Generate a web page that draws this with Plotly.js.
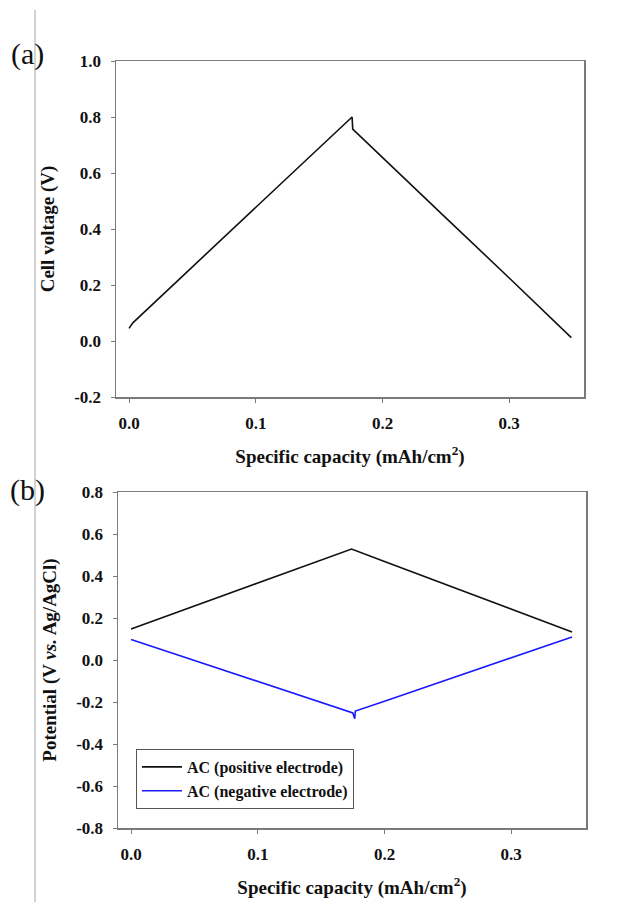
<!DOCTYPE html>
<html>
<head>
<meta charset="utf-8">
<script src="https://cdn.plot.ly/plotly-3.0.1.min.js"></script>
<style>
  html, body { margin: 0; padding: 0; background: #fff; }
  #chart { width: 621px; height: 902px; }
</style>
</head>
<body>
<div id="chart"></div>
<script>
// (a) Cell voltage during one charge/discharge cycle
const cellCapacity = [0, 0.003, 0.05, 0.10, 0.15, 0.176, 0.1765, 0.20, 0.25, 0.30, 0.349];
const cellVoltage  = [0.045, 0.065, 0.265, 0.477, 0.69, 0.80, 0.757, 0.655, 0.44, 0.225, 0.012];

// (b) Individual electrode potentials vs. Ag/AgCl
const posCapacity  = [0, 0.05, 0.10, 0.15, 0.174, 0.20, 0.25, 0.30, 0.348];
const posPotential = [0.148, 0.258, 0.367, 0.477, 0.528, 0.469, 0.355, 0.242, 0.133];
const negCapacity  = [0, 0.05, 0.10, 0.15, 0.175, 0.1765, 0.177, 0.20, 0.25, 0.30, 0.348];
const negPotential = [0.098, -0.002, -0.102, -0.202, -0.252, -0.28, -0.243, -0.196, -0.093, 0.011, 0.11];

const seriesNames = ['AC (positive electrode)', 'AC (negative electrode)'];
const xTicks  = [0, 0.1, 0.2, 0.3];
const xLabels = ['0.0', '0.1', '0.2', '0.3'];
const yTicksA  = [-0.2, 0, 0.2, 0.4, 0.6, 0.8, 1.0];
const yLabelsA = ['-0.2', '0.0', '0.2', '0.4', '0.6', '0.8', '1.0'];
const yTicksB  = [-0.8, -0.6, -0.4, -0.2, 0, 0.2, 0.4, 0.6, 0.8];
const yLabelsB = ['-0.8', '-0.6', '-0.4', '-0.2', '0.0', '0.2', '0.4', '0.6', '0.8'];

const SERIF = 'Liberation Serif, Times New Roman, serif';
const AXIS_GRAY = '#7a7a7a';

const traces = [
  { x: cellCapacity, y: cellVoltage, xaxis: 'x', yaxis: 'y', mode: 'lines',
    line: { color: '#111', width: 1.6 }, showlegend: false },
  { x: posCapacity, y: posPotential, xaxis: 'x2', yaxis: 'y2', mode: 'lines',
    name: seriesNames[0], line: { color: '#111', width: 1.6 } },
  { x: negCapacity, y: negPotential, xaxis: 'x2', yaxis: 'y2', mode: 'lines',
    name: seriesNames[1], line: { color: '#1a1aff', width: 1.6 } }
];

function xAxis(domain, anchor) {
  return {
    domain: domain, anchor: anchor, range: [-0.0103, 0.359],
    tickvals: xTicks, ticktext: xLabels,
    showline: true, linecolor: AXIS_GRAY, linewidth: 1.5, mirror: true,
    ticks: 'outside', ticklen: 4, tickcolor: AXIS_GRAY, tickwidth: 1,
    ticklabelstandoff: 6,
    showgrid: false, zeroline: false,
    tickfont: { family: SERIF, size: 17, color: '#111', weight: 'bold' },
    title: { text: 'Specific capacity (mAh/cm<sup>2</sup>)',
             font: { family: SERIF, size: 19, color: '#111', weight: 'bold' }, standoff: 18 }
  };
}
function yAxis(domain, anchor, range, vals, labels, title) {
  return {
    domain: domain, anchor: anchor, range: range,
    tickvals: vals, ticktext: labels,
    showline: true, linecolor: AXIS_GRAY, linewidth: 1.5, mirror: true,
    ticks: 'outside', ticklen: 4, tickcolor: AXIS_GRAY, tickwidth: 1,
    ticklabelstandoff: 6,
    showgrid: false, zeroline: false,
    tickfont: { family: SERIF, size: 17, color: '#111', weight: 'bold' },
    title: { text: title, font: { family: SERIF, size: 19, color: '#111', weight: 'bold' }, standoff: 14 }
  };
}

const layout = {
  width: 621, height: 902,
  margin: { l: 0, r: 0, t: 0, b: 0 },
  paper_bgcolor: '#fff', plot_bgcolor: '#fff',
  xaxis:  xAxis([116 / 621, 584 / 621], 'y'),
  yaxis:  yAxis([1 - 397 / 902, 1 - 61 / 902], 'x', [-0.2, 1.0], yTicksA, yLabelsA, 'Cell voltage (V)'),
  xaxis2: xAxis([118 / 621, 586 / 621], 'y2'),
  yaxis2: yAxis([1 - 828 / 902, 1 - 492 / 902], 'x2', [-0.8, 0.8], yTicksB, yLabelsB,
                'Potential (V <i>vs.</i> Ag/AgCl)'),
  showlegend: true,
  legend: {
    x: 136 / 621, y: 1 - 749 / 902, xanchor: 'left', yanchor: 'top',
    bordercolor: '#555', borderwidth: 1, bgcolor: '#fff',
    font: { family: SERIF, size: 16, color: '#111', weight: 'bold' },
    itemwidth: 40, tracegroupgap: 0
  },
  shapes: [
    { type: 'line', xref: 'paper', yref: 'paper', x0: 35 / 621, x1: 35 / 621, y0: 0, y1: 1 - 10 / 902,
      line: { color: '#c4c4c4', width: 1.5 } }
  ],
  annotations: [
    { text: '(a)', xref: 'paper', yref: 'paper', x: 27 / 621, y: 1 - 54 / 902,
      xanchor: 'center', yanchor: 'middle', showarrow: false,
      font: { family: SERIF, size: 30, color: '#111' } },
    { text: '(b)', xref: 'paper', yref: 'paper', x: 27 / 621, y: 1 - 490 / 902,
      xanchor: 'center', yanchor: 'middle', showarrow: false,
      font: { family: SERIF, size: 30, color: '#111' } }
  ]
};

Plotly.newPlot('chart', traces, layout, { displayModeBar: false, staticPlot: true });
</script>
</body>
</html>
